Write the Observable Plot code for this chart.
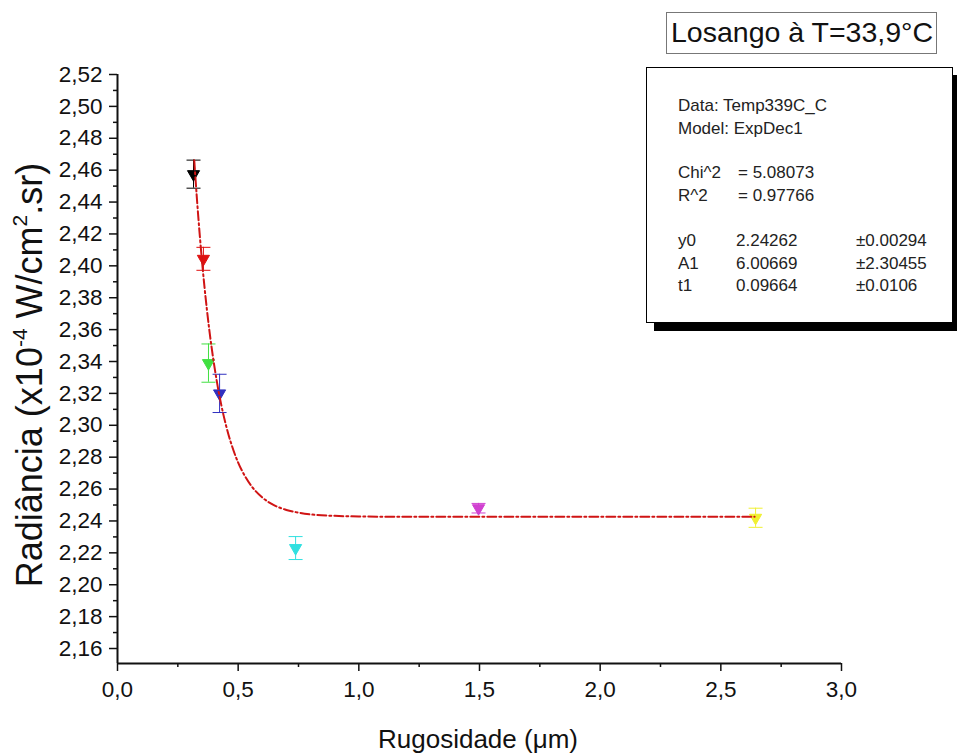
<!DOCTYPE html>
<html><head><meta charset="utf-8">
<script src="https://cdn.jsdelivr.net/npm/d3@7"></script>
<script src="https://cdn.jsdelivr.net/npm/@observablehq/plot@0.6"></script>
<style>
body{margin:0;background:#fff;font-family:"Liberation Sans",Arial,sans-serif;}
#wrap{position:relative;width:957px;height:756px;overflow:hidden;}
#title{position:absolute;left:666px;top:12px;width:271px;height:42px;border:1.5px solid #777;box-sizing:border-box;font-size:28.5px;line-height:39px;padding-left:4px;white-space:nowrap;color:#111;}
#stats{position:absolute;left:646px;top:67px;width:307px;height:256px;border:1px solid #000;background:#fff;box-shadow:8px 8px 0 #000;box-sizing:border-box;font-size:17px;color:#222;}
#stats span{position:absolute;white-space:nowrap;transform:translateY(-50%);}
</style></head>
<body><div id="wrap"><div id="chart"></div>
<div id="title">Losango à T=33,9°C</div>
<div id="stats"></div></div>
<script>
// measured points
const rug = [0.315, 0.356, 0.377, 0.423, 0.738, 1.496, 2.644];
const rad = [2.4575, 2.4044, 2.339, 2.320, 2.223, 2.248, 2.242];
const err = [0.0088, 0.0072, 0.012, 0.012, 0.0072, 0.003, 0.006];
const colors = ["#000000", "#e01010", "#40e040", "#3030c0", "#30e0e0", "#d040d0", "#f0f030"];
// fitted curve (ExpDec1)
const fitX = [0.318, 0.33, 0.34, 0.35, 0.36, 0.37, 0.38, 0.39, 0.40, 0.42, 0.44, 0.46, 0.48, 0.50, 0.53, 0.56, 0.60, 0.65, 0.70, 0.75, 0.80, 0.90, 1.00, 1.20, 1.50, 2.00, 2.64];
const fitY = [2.4662, 2.4402, 2.4208, 2.4032, 2.3874, 2.3732, 2.3603, 2.3488, 2.3384, 2.3204, 2.3059, 2.2941, 2.2845, 2.2766, 2.2676, 2.2609, 2.2547, 2.2498, 2.2469, 2.2452, 2.2441, 2.2432, 2.2428, 2.2426, 2.2426, 2.2426, 2.2426];
// ticks
const xTicks = [0, 0.5, 1, 1.5, 2, 2.5, 3];
const xMinor = [0.25, 0.75, 1.25, 1.75, 2.25, 2.75];
const yTicks = [2.16, 2.18, 2.20, 2.22, 2.24, 2.26, 2.28, 2.30, 2.32, 2.34, 2.36, 2.38, 2.40, 2.42, 2.44, 2.46, 2.48, 2.50, 2.52];
const yMinor = [2.17, 2.19, 2.21, 2.23, 2.25, 2.27, 2.29, 2.31, 2.33, 2.35, 2.37, 2.39, 2.41, 2.43, 2.45, 2.47, 2.49, 2.51];
const yDomain = [2.1506, 2.52];
const xDomain = [0, 3];
// stats box text
const statsRows = [
  ["Data: Temp339C_C", "", ""],
  ["Model: ExpDec1", "", ""],
  ["Chi^2", "=  5.08073", ""],
  ["R^2", "=  0.97766", ""],
  ["y0", "2.24262", "±0.00294"],
  ["A1", "6.00669", "±2.30455"],
  ["t1", "0.09664", "±0.0106"]
];

const points = rug.map((x, i) => ({x, y: rad[i], e: err[i], c: colors[i]}));
const fit = fitX.map((x, i) => ({x, y: fitY[i]}));

const downTri = {draw(ctx, size) {
  const h = Math.sqrt(size / (Math.sqrt(3) * 3));
  ctx.moveTo(0, 2 * h); ctx.lineTo(-Math.sqrt(3) * h, -h); ctx.lineTo(Math.sqrt(3) * h, -h); ctx.closePath();
}};
const cap = {draw(ctx, size) {
  const w = Math.sqrt(size / Math.PI);
  ctx.moveTo(-w, 0); ctx.lineTo(w, 0);
}};

const fmtY = d => d.toFixed(2).replace(".", ",");
const fmtX = d => d.toFixed(1).replace(".", ",");

const plot = Plot.plot({
  width: 957, height: 756,
  marginLeft: 117, marginRight: 116, marginTop: 74, marginBottom: 93,
  style: {fontFamily: "Liberation Sans, Arial, sans-serif", fontSize: "22.5px", color: "#111", background: "#fff"},
  x: {domain: xDomain},
  y: {domain: yDomain},
  color: {type: "identity"},
  marks: [
    Plot.axisY(yMinor, {tickSize: 4, strokeWidth: 1.5, tickFormat: () => "", label: null}),
    Plot.axisY(yTicks, {tickSize: 8, strokeWidth: 1.5, tickPadding: 7, tickFormat: fmtY, label: null}),
    Plot.axisX(xMinor, {tickSize: 4, strokeWidth: 1.5, tickFormat: () => "", label: null}),
    Plot.axisX(xTicks, {tickSize: 8, strokeWidth: 1.5, tickPadding: 10, tickFormat: fmtX, label: null}),
    Plot.ruleX([xDomain[0]], {y1: yDomain[0], y2: yDomain[1], strokeWidth: 2}),
    Plot.ruleY([yDomain[0]], {x1: xDomain[0], x2: xDomain[1], strokeWidth: 2}),
    Plot.ruleX(points, {x: "x", y1: d => d.y - d.e, y2: d => d.y + d.e, stroke: "c", strokeWidth: 1}),
    Plot.dot(points, {x: "x", y: d => d.y + d.e, symbol: cap, r: 7, stroke: "c", strokeWidth: 1}),
    Plot.dot(points, {x: "x", y: d => d.y - d.e, symbol: cap, r: 7, stroke: "c", strokeWidth: 1}),
    Plot.dot(points, {x: "x", y: "y", symbol: downTri, r: 4.5, fill: "c", stroke: "c", strokeWidth: 1}),
    Plot.line(fit, {x: "x", y: "y", stroke: "#d01414", strokeWidth: 2, strokeDasharray: "9,3,2,3", curve: "monotone-x"})
  ]
});
document.getElementById("chart").appendChild(plot);

const svg = d3.select(plot);
svg.append("text")
  .attr("x", 478).attr("y", 748)
  .attr("text-anchor", "middle")
  .attr("font-size", 26).attr("fill", "#111")
  .text("Rugosidade (μm)");

const yl = svg.append("text")
  .attr("transform", "translate(42,375) rotate(-90)")
  .attr("text-anchor", "middle")
  .attr("font-size", 36).attr("fill", "#111");
yl.append("tspan").text("Radiância (x10");
yl.append("tspan").attr("font-size", 21).attr("dy", -15).text("-4");
yl.append("tspan").attr("dy", 15).text(" W/cm");
yl.append("tspan").attr("font-size", 21).attr("dy", -15).text("2");
yl.append("tspan").attr("dy", 15).text(".sr)");

const stats = document.getElementById("stats");
const rowY = [38, 61, 105, 128, 173, 196, 218];
statsRows.forEach((r, i) => {
  const add = (txt, left) => { if (!txt) return; const s = document.createElement("span"); s.textContent = txt; s.style.left = left + "px"; s.style.top = rowY[i] + "px"; stats.appendChild(s); };
  add(r[0], 31);
  add(r[1], i < 4 ? 91 : 89);
  add(r[2], 209);
});
</script></body></html>
